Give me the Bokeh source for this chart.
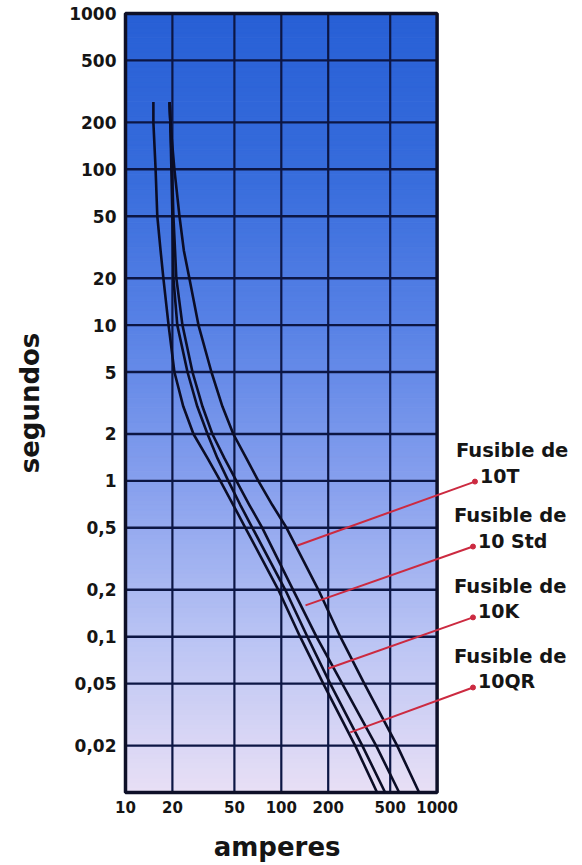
import numpy as np
from bokeh.plotting import figure
from bokeh.models import FixedTicker, Range1d, LogAxis
from bokeh.embed import file_html
from bokeh.resources import INLINE
from bokeh.core.properties import value

# ---------------- data ----------------
times = [270, 200, 100, 50, 30, 20, 10, 5, 3, 2, 1.4, 1, 0.7, 0.5, 0.2, 0.1, 0.05, 0.02, 0.01]
amps_10QR = [15.1, 15.1, 15.6, 16.0, 16.8, 17.5, 18.9, 20.6, 23.5, 27.3, 33.6, 40.6, 49.2, 58.8,
             95.7, 132, 186, 298, 412]
amps_10K = [19.2, 19.4, 19.7, 20.0, 20.2, 20.3, 21.5, 25.0, 28.9, 33.6, 38.9, 45.7, 54.6, 65.2,
            106, 147, 206, 331, 464]
amps_10Std = [19.2, 19.4, 19.9, 20.3, 20.8, 21.2, 23.2, 26.9, 31.2, 36.1, 43.1, 51.5, 62.4, 75.5,
              119, 168, 246, 406, 571]
amps_10T = [19.2, 19.4, 20.6, 22.2, 23.7, 25.7, 29.4, 35.6, 41.9, 49.2, 59.6, 71.2, 87.6, 108,
            173, 239, 341, 554, 767]

fuse_names = ["10T", "10 Std", "10K", "10QR"]
label_prefix = "Fusible de"
label_anchor_amps = [1750, 1700, 1700, 1700]
label_anchor_secs = [0.99, 0.379, 0.133, 0.0472]
leader_end_amps = [127, 143, 200, 277]
leader_end_secs = [0.385, 0.159, 0.0625, 0.0243]

x_ticks = [10, 20, 50, 100, 200, 500, 1000]
x_tick_labels = ["10", "20", "50", "100", "200", "500", "1000"]
y_ticks = [1000, 500, 200, 100, 50, 20, 10, 5, 2, 1, 0.5, 0.2, 0.1, 0.05, 0.02]
y_tick_labels = ["1000", "500", "200", "100", "50", "20", "10", "5", "2", "1",
                 "0,5", "0,2", "0,1", "0,05", "0,02"]
x_title = "amperes"
x_title_at = 94
y_title = "segundos"
X_MIN, X_MAX = 10, 1000
Y_MIN, Y_MAX = 0.01, 1000

# ---------------- layout ----------------
W, H = 582, 865
LEFT, RIGHT, TOP, BOTTOM = 122, 6, 10, 70
PAD = 3
frame_w = W - LEFT - RIGHT
frame_h = H - TOP - BOTTOM
ydec = (frame_h - 2 * PAD) / np.log10(Y_MAX / Y_MIN)
xdec = ydec
x_lo = X_MIN / 10 ** (PAD / xdec)
x_hi = X_MIN * 10 ** ((frame_w - PAD) / xdec)
y_lo = Y_MIN / 10 ** (PAD / ydec)
y_hi = Y_MAX * 10 ** (PAD / ydec)

p = figure(width=W, height=H, x_axis_type="log", y_axis_type="log",
           x_range=Range1d(x_lo, x_hi), y_range=Range1d(y_lo, y_hi),
           output_backend="svg", toolbar_location=None,
           min_border_left=LEFT, min_border_right=RIGHT,
           min_border_top=TOP, min_border_bottom=BOTTOM)
p.outline_line_color = None
p.background_fill_color = "white"
p.border_fill_color = "white"
p.grid.visible = False

# ---------------- gradient background ----------------
N = 160
edges = np.logspace(np.log10(Y_MIN), np.log10(Y_MAX), N + 1)
f_top = 1 - (np.arange(N) + 0.5) / N
stop_f = [0.0, 0.2, 0.4, 0.6, 0.8, 1.0]
stop_r = [40, 55, 88, 135, 186, 233]
stop_g = [96, 108, 130, 160, 196, 224]
stop_b = [214, 220, 230, 238, 244, 246]
cols = ["#%02x%02x%02x" % (int(np.interp(f, stop_f, stop_r)),
                           int(np.interp(f, stop_f, stop_g)),
                           int(np.interp(f, stop_f, stop_b))) for f in f_top]
p.quad(left=X_MIN, right=X_MAX, bottom=edges[:-1], top=edges[1:],
       fill_color=cols, line_color=cols, line_width=1)

# ---------------- grid ----------------
grid_col = "#0c1644"
vx = [t for t in x_ticks if X_MIN < t < X_MAX]
p.segment(x0=vx, y0=Y_MIN, x1=vx, y1=Y_MAX, line_color=grid_col, line_width=2.2)
hy = [t for t in y_ticks if Y_MIN < t < Y_MAX]
p.segment(x0=X_MIN, y0=hy, x1=X_MAX, y1=hy, line_color=grid_col, line_width=2.4)

p.quad(left=[X_MIN], right=[X_MAX], bottom=[Y_MIN], top=[Y_MAX],
       fill_color=None, line_color="#0e1028", line_width=3.5)

# ---------------- curves ----------------
curve_col = "#0b0d26"
for amps in (amps_10QR, amps_10K, amps_10Std, amps_10T):
    p.line(amps, times, line_color=curve_col, line_width=2.6, line_join="round")

# ---------------- labels with leaders ----------------
red = "#cc2a40"
p.segment(x0=label_anchor_amps, y0=label_anchor_secs, x1=leader_end_amps, y1=leader_end_secs,
          line_color=red, line_width=2)
p.scatter(label_anchor_amps, label_anchor_secs, size=5, color=red)
p.text(x=label_anchor_amps, y=label_anchor_secs, text=fuse_names,
       text_font=value("DejaVu Sans"), text_font_style="bold", text_font_size="19px",
       text_color="#151515", text_baseline="alphabetic", x_offset=5, y_offset=-6)
p.text(x=label_anchor_amps, y=label_anchor_secs, text=[label_prefix] * len(fuse_names),
       text_font=value("DejaVu Sans"), text_font_style="bold", text_font_size="19.5px",
       text_color="#151515", text_baseline="alphabetic", x_offset=-19, y_offset=-31)

# ---------------- axes ----------------
p.xaxis.ticker = FixedTicker(ticks=x_ticks)
p.xaxis.major_label_overrides = dict(zip(x_ticks, x_tick_labels))
p.yaxis.ticker = FixedTicker(ticks=y_ticks)
p.yaxis.major_label_overrides = dict(zip(y_ticks, y_tick_labels))

xt = LogAxis(ticker=FixedTicker(ticks=[x_title_at]),
             major_label_overrides={x_title_at: x_title})
p.add_layout(xt, "below")

for ax in (p.xaxis[0], p.yaxis[0], xt):
    ax.axis_line_color = None
    ax.major_tick_line_color = None
    ax.minor_tick_line_color = None
    ax.major_tick_out = 0
    ax.major_tick_in = 0
    ax.major_label_text_font = "DejaVu Sans"
    ax.major_label_text_font_style = "bold"
    ax.major_label_text_color = "#151515"
p.xaxis[0].major_label_text_font_size = "15px"
p.xaxis[0].major_label_standoff = 5
p.yaxis[0].major_label_text_font_size = "17px"
p.yaxis[0].major_label_standoff = 6
xt.major_label_text_font_size = "26px"
xt.major_label_standoff = 16

p.yaxis[0].axis_label = y_title
p.yaxis[0].axis_label_text_font = "DejaVu Sans"
p.yaxis[0].axis_label_text_font_style = "bold"
p.yaxis[0].axis_label_text_font_size = "26px"
p.yaxis[0].axis_label_text_color = "#151515"
p.yaxis[0].axis_label_standoff = 21

open("out.html", "w").write(file_html(p, INLINE))
